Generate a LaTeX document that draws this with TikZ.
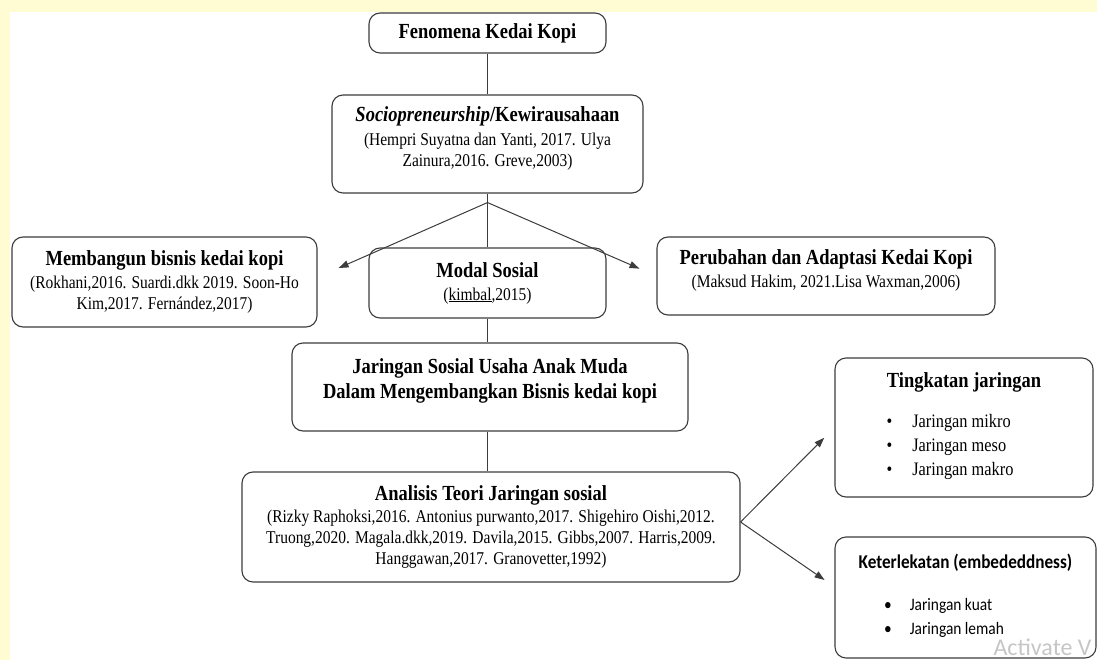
\documentclass[tikz,border=0pt]{standalone}
\usepackage{fontspec}
\setmainfont[FakeStretch=0.86]{Liberation Serif}
\newfontfamily\calibri[FakeStretch=0.88]{Carlito}
\newfontfamily\layar{Carlito}
\usetikzlibrary{arrows.meta}
\definecolor{latarkuning}{HTML}{FFFCD4}
\definecolor{garisabu}{HTML}{3C3C3C}
\newcommand{\judul}[1]{{\fontsize{21.5}{22}\selectfont\bfseries #1}}
\begin{document}
\begin{tikzpicture}[x=1pt,y=-1pt,
  kotak/.style={draw=garisabu,line width=1.1pt,rounded corners=11pt,fill=white,
    align=center,inner sep=2pt,font=\fontsize{18}{21}\selectfont},
  garis/.style={draw=garisabu,line width=1pt},
  panah/.style={garis,-{Triangle[length=10pt,width=7pt]}}]
  \useasboundingbox (0,0) rectangle (1097,660);
  \fill[latarkuning] (0,0) rectangle (1097,660);
  \fill[white] (10,12) rectangle (1097,660);

  \node[kotak,minimum width=237pt,minimum height=40pt] (fenomena) at (487.5,33)
    {\judul{Fenomena Kedai Kopi}};
  \node[kotak,minimum width=311pt,minimum height=98pt] (socio) at (487.5,144)
    {\judul{\textit{Sociopreneurship}/Kewirausahaan}\\[3pt]
     (Hempri Suyatna dan Yanti, 2017. Ulya\\ Zainura,2016. Greve,2003)\\[-7pt]\mbox{}};
  \node[kotak,minimum width=305pt,minimum height=90pt] (bisnis) at (164.5,282)
    {\judul{Membangun bisnis kedai kopi}\\[2pt]
     (Rokhani,2016. Suardi.dkk 2019. Soon-Ho\\ Kim,2017. Fernández,2017)};
  \node[kotak,minimum width=237pt,minimum height=70pt] (modal) at (487.5,283)
    {\judul{Modal Sosial}\\[2pt] (\underline{kimbal},2015)};
  \node[kotak,minimum width=338pt,minimum height=78pt] (adaptasi) at (826,276)
    {\judul{Perubahan dan Adaptasi Kedai Kopi}\\[2pt]
     (Maksud Hakim, 2021.Lisa Waxman,2006)\\[-6pt]\mbox{}};
  \node[kotak,minimum width=396pt,minimum height=88pt] (jaringan) at (490,387)
    {\judul{Jaringan Sosial Usaha Anak Muda}\\[4pt]
     \judul{Dalam Mengembangkan Bisnis kedai kopi}\\[-4pt]\mbox{}};
  \node[kotak,minimum width=498pt,minimum height=110pt] (analisis) at (491,527)
    {\judul{Analisis Teori Jaringan sosial}\\[1pt]
     (Rizky Raphoksi,2016. Antonius purwanto,2017. Shigehiro Oishi,2012.\\
     Truong,2020. Magala.dkk,2019. Davila,2015. Gibbs,2007. Harris,2009.\\
     Hanggawan,2017. Granovetter,1992)};
  \node[kotak,minimum width=258pt,minimum height=139pt] (tingkat) at (964,427.5)
    {\judul{Tingkatan jaringan}\\[18pt]
     {\fontsize{19}{24}\selectfont
     \begin{tabular}{@{}l@{\hspace{20pt}}l@{}}
       • & Jaringan mikro\\ • & Jaringan meso\\ • & Jaringan makro
     \end{tabular}}\hspace*{28pt}};
  \node[kotak,minimum width=261pt,minimum height=121pt,font=\calibri\fontsize{17.5}{24}\selectfont]
    (keter) at (965.5,597.5)
    {{\fontsize{19.5}{22}\selectfont\bfseries Keterlekatan (embededdness)}\\[21pt]
     \begin{tabular}{@{}l@{\hspace{18pt}}l@{}}
       • & Jaringan kuat\\ • & Jaringan lemah
     \end{tabular}\hspace*{43pt}};

  \draw[garis] (fenomena.south) -- (socio.south |- fenomena.south) -- (socio.north);
  \draw[garis] (socio.south) -- ++(0,9) coordinate (cabang);
  \draw[garis] (cabang) -- (modal.north);
  \draw[panah,shorten >=23pt] (cabang) -- ([yshift=4.7pt]bisnis.east);
  \draw[panah,shorten >=18.5pt] (cabang) -- (adaptasi.west);
  \draw[garis] (modal.south) -- (modal.south |- jaringan.north);
  \draw[garis] (modal.south |- jaringan.south) -- (modal.south |- analisis.north);
  \coordinate (simpang) at ([yshift=5pt]analisis.east);
  \draw[panah,shorten >=14.5pt] (simpang) -- (tingkat.west);
  \draw[panah,shorten >=12pt] (simpang) -- ([yshift=10.7pt]keter.west);
  % \draw[garis] (analisis.east) -- (keter.west);

  \node[text=gray!45,font=\layar\fontsize{24}{24}\selectfont,anchor=base east]
    (aktivasi) at (1095,655) {Activate V};
\end{tikzpicture}
\end{document}
